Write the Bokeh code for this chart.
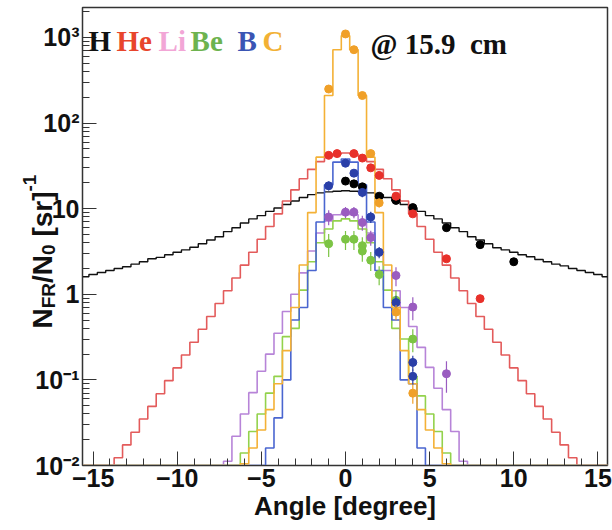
import numpy as np
from bokeh.plotting import figure
from bokeh.models import Range1d, FixedTicker, SingleIntervalTicker, Label, Row
from bokeh.core.properties import value
from bokeh.embed import file_html
from bokeh.resources import INLINE

# ---------------- data ----------------
# histogram bins: 0.5 degree wide, centred on multiples of 0.5 degree
bin_centers = np.arange(-15.5, 15.51, 0.5)
bin_width = 0.5

H_hist = [1.6, 1.7, 1.8, 1.9, 2.0, 2.1, 2.25, 2.4, 2.6, 2.7, 2.9, 3.1, 3.3, 3.55, 3.9, 4.3,
          4.7, 5.4, 6.0, 6.8, 7.6, 8.3, 9.3, 10.2, 11.2, 12.3, 13.5, 14.6, 15.3, 15.7, 16.0,
          16.2,
          16.0, 15.7, 15.3, 14.6, 13.5, 12.3, 11.2, 10.2, 9.3, 8.3, 7.6, 6.8, 6.0, 5.4, 4.7,
          4.3, 3.9, 3.5, 3.3, 3.1, 2.9, 2.75, 2.55, 2.4, 2.25, 2.15, 2.0, 1.9, 1.8, 1.7, 1.6]
He_hist = [0, 0, 0, 0, 0.0123, 0.0174, 0.0245, 0.035, 0.049, 0.069, 0.098, 0.138, 0.195,
           0.275, 0.39, 0.55, 0.78, 1.10, 1.55, 2.19, 3.1, 4.4, 6.2, 8.7, 12.3, 16.6, 22.4,
           28.8, 35.5, 40.7, 43.6,
           44.7,
           43.6, 40.7, 35.5, 28.8, 22.4, 16.6, 12.3, 8.7, 6.2, 4.4, 3.1, 2.19, 1.55, 1.10, 0.78,
           0.55, 0.39, 0.275, 0.195, 0.138, 0.098, 0.069, 0.049, 0.035, 0.0245, 0.0174, 0.0123,
           0, 0, 0, 0]
Li_hist = [0] * 16 + [0, 0.0112, 0.022, 0.04, 0.071, 0.126, 0.2, 0.35, 0.63, 1.0, 1.78, 3.2,
                      5.2, 7.2, 8.5] + \
          [8.9] + \
          [8.5, 7.2, 5.2, 3.2, 1.9, 1.1, 0.7, 0.42, 0.24, 0.14, 0.08, 0.045, 0.025, 0.0112, 0] + [0] * 16
Be_hist = [0] * 19 + [0.014, 0.025, 0.04, 0.07, 0.11, 0.32, 0.4, 1.12, 2.4, 4.0, 5.8, 7.2] + \
          [7.6] + \
          [7.2, 5.8, 4.0, 2.4, 1.12, 0.4, 0.3, 0.11, 0.065, 0.04, 0.025, 0.014] + [0] * 19
B_hist = [0] * 22 + [0.016, 0.036, 0.1, 0.5, 0.7, 1.9, 7.0, 19.0, 35.0] + \
         [38.0] + \
         [35.0, 19.0, 7.0, 1.9, 0.7, 0.5, 0.1, 0.09, 0.016] + [0] * 22
C_hist = [0] * 19 + [0.0105, 0.016, 0.026, 0.045, 0.09, 0.22, 0.7, 2.2, 9.0, 40.0, 210.0, 720.0] + \
         [1050.0] + \
         [720.0, 210.0, 40.0, 9.0, 2.2, 0.7, 0.22, 0.09, 0.045, 0.026, 0.016, 0.0105] + [0] * 19

# measured points (x in degree, value, relative error)
H_x = [0, 0.5, 1, 2, 3, 4, 6, 8, 10]
H_v = [21.0, 19.5, 18.0, 14.0, 12.5, 10.3, 6.0, 3.8, 2.4]
H_e = [0.03] * 9
He_x = [-1, -0.5, 0.5, 1, 1.5, 2, 3, 4, 6, 8]
He_v = [42.0, 44.0, 44.0, 39.0, 30.0, 24.5, 14.0, 8.7, 2.6, 0.89]
He_e = [0.05] * 10
Li_x = [-1, 0, 0.5, 1, 1.5, 3, 4, 6]
Li_v = [8.0, 9.1, 9.1, 6.9, 4.6, 1.66, 0.71, 0.118]
Li_e = [0.2, 0.15, 0.15, 0.2, 0.2, 0.25, 0.3, 0.4]
Be_x = [-1, 0, 0.5, 1, 1, 1.5, 2, 3, 4]
Be_v = [3.9, 4.4, 4.4, 3.7, 3.2, 2.5, 1.7, 0.85, 0.3]
Be_e = [0.3, 0.25, 0.25, 0.25, 0.25, 0.25, 0.25, 0.3, 0.3]
B_x = [-1, 0, 0.5, 1, 1.5, 2, 3, 4, 4]
B_v = [18.5, 34.0, 26.0, 15.5, 8.0, 3.1, 0.8, 0.16, 0.11]
B_e = [0.12, 0.1, 0.1, 0.12, 0.15, 0.15, 0.2, 0.2, 0.2]
C_x = [-1, 0, 0.5, 1, 1.5, 2, 3, 4]
C_v = [250.0, 1100.0, 720.0, 210.0, 44.0, 11.7, 0.62, 0.07]
C_e = [0.08, 0.05, 0.06, 0.08, 0.1, 0.12, 0.2, 0.25]

legend_words = ["H", "He", "Li", "Be", "B", "C"]
x_ticks_major = [-15, -10, -5, 0, 5, 10, 15]
y_ticks_major = [0.01, 0.1, 1, 10, 100, 1000]
y_tick_labels = ["10\u207b\u00b2", "10\u207b\u00b9", "1", "10", "10\u00b2", "10\u00b3"]
y_title_parts = ["N", "FR", "/N", "0", "\u00a0[sr]", "-1"]

# ---------------- styling ----------------
hist_colors = {"H": "#111111", "He": "#e35b5b", "Li": "#b784d8", "Be": "#93d24c",
               "B": "#4a66d0", "C": "#f4b136"}
dot_colors = {"H": "#000000", "He": "#e8302a", "Li": "#9a5cc0", "Be": "#7cc444",
              "B": "#2a3fa8", "C": "#f0a028"}
word_colors = {"H": "#111111", "He": "#e8452c", "Li": "#f2a6d6", "Be": "#6db34f",
               "B": "#3a55b4", "C": "#f2b134"}

W, H = 612, 530
BORDER_L, BORDER_R, BORDER_T, BORDER_B = 82, 5, 7, 65
Y_MIN, Y_MAX = 0.01, 2240.0
X_MIN, X_MAX = -15.63, 15.57

p = figure(width=W, height=H, y_axis_type="log",
           x_range=Range1d(X_MIN, X_MAX), y_range=Range1d(Y_MIN, Y_MAX),
           output_backend="svg", toolbar_location=None,
           min_border_left=BORDER_L, min_border_right=BORDER_R,
           min_border_top=BORDER_T, min_border_bottom=BORDER_B)
p.background_fill_color = "white"
p.border_fill_color = "white"
p.xgrid.visible = False
p.ygrid.visible = False
p.outline_line_color = "#333333"
p.outline_line_width = 1.5

# axes
p.xaxis.ticker = SingleIntervalTicker(interval=5, num_minor_ticks=5)
p.yaxis.ticker = FixedTicker(ticks=y_ticks_major,
                             minor_ticks=[m * 10.0 ** e for e in range(-2, 4) for m in range(2, 10)])
p.yaxis.major_label_overrides = dict(zip(y_ticks_major, y_tick_labels))
for ax in (p.xaxis[0], p.yaxis[0]):
    ax.major_tick_in = 14
    ax.major_tick_out = 0
    ax.minor_tick_in = 7
    ax.minor_tick_out = 0
    ax.axis_line_color = "#333333"
    ax.major_tick_line_color = "#333333"
    ax.minor_tick_line_color = "#333333"
    ax.major_label_text_font = "Liberation Sans"
    ax.major_label_text_font_style = "bold"
    ax.major_label_text_color = "#111111"
    ax.major_label_standoff = 3
p.xaxis.major_label_text_font_size = "25px"
p.yaxis.major_label_text_font_size = "25px"
p.xaxis.axis_label = "Angle [degree]"
p.xaxis.axis_label_text_font = "Liberation Sans"
p.xaxis.axis_label_text_font_style = "bold"
p.xaxis.axis_label_text_font_size = "26px"
p.xaxis.axis_label_text_color = "#111111"
p.xaxis.axis_label_standoff = 1


def step_path(values):
    vals = np.maximum(np.asarray(values, dtype=float), Y_MIN)
    edges_lo = bin_centers - bin_width / 2
    edges_hi = bin_centers + bin_width / 2
    xs = np.ravel(np.column_stack([edges_lo, edges_hi]))
    ys = np.ravel(np.column_stack([vals, vals]))
    return xs, ys


hists = [("H", H_hist), ("He", He_hist), ("Li", Li_hist), ("Be", Be_hist),
         ("B", B_hist), ("C", C_hist)]
for name, vals in hists:
    xs, ys = step_path(vals)
    p.line(xs, ys, line_color=hist_colors[name], line_width=1.6 if name != "H" else 1.4)

points = [("H", H_x, H_v, H_e), ("He", He_x, He_v, He_e), ("Li", Li_x, Li_v, Li_e),
          ("Be", Be_x, Be_v, Be_e), ("B", B_x, B_v, B_e), ("C", C_x, C_v, C_e)]
for name, xs, vs, es in points:
    xs = np.asarray(xs, float)
    vs = np.asarray(vs, float)
    es = np.asarray(es, float)
    p.segment(xs, vs * (1 - es), xs, vs * (1 + es), line_color=dot_colors[name], line_width=1.2)
    p.scatter(xs, vs, size=8, fill_color=dot_colors[name], line_color=dot_colors[name])


# ---------------- texts inside the frame ----------------
def sx(px):
    return (px - 345.0) / 16.83


def sy(py):
    return 10 ** (3 - (py - 37.0) / 85.6)


word_px = [88, 116, 158, 190, 237, 262]
for w, px in zip(legend_words, word_px):
    p.add_layout(Label(x=sx(px), y=sy(41), text=w, text_font="Liberation Serif",
                       text_font_style="bold", text_font_size="29px",
                       text_color=word_colors[w], text_align="left",
                       text_baseline="alphabetic"))

p.add_layout(Label(x=sx(370), y=sy(44), text="@ 15.9\u00a0\u00a0cm", text_font="Liberation Serif",
                   text_font_style="bold", text_font_size="29px", text_color="#111111",
                   text_align="left", text_baseline="alphabetic"))

# ---------------- rotated y-axis title on a transparent overlay figure ----------------
# the row aligns the overlay's frame vertically with the main frame, so its y range is
# chosen so that y = H - (page pixel row); x spans the whole overlay canvas
ov = figure(width=W, height=H, x_range=Range1d(11, W + 11),
            y_range=Range1d(BORDER_B, H - BORDER_T),
            output_backend="svg", toolbar_location=None,
            x_axis_location=None, y_axis_location=None,
            min_border_left=0, min_border_right=0, min_border_top=0, min_border_bottom=0)
ov.xgrid.visible = False
ov.ygrid.visible = False
ov.outline_line_color = None
ov.background_fill_color = None
ov.border_fill_color = None
ov.margin = (0, 0, 0, -W)   # pull the overlay back on top of the main figure

title_start_py = [328.0, 307.8, 282.5, 254.5, 243.9, 191.0]   # where each piece begins (page px)
title_base_px = [53, 59, 53, 59, 53, 40]                       # baseline column (page px)
title_sizes = ["28px", "19px", "28px", "19px", "28px", "19px"]
for txt, py, px, fs in zip(y_title_parts, title_start_py, title_base_px, title_sizes):
    ov.text(x=[px], y=[H - py], text=[txt], angle=np.pi / 2,
            text_font=value("Liberation Sans"), text_font_style="bold",
            text_font_size=fs, text_color="#111111",
            text_align="left", text_baseline="alphabetic")

layout = Row(children=[p, ov], width=W, height=H)

open("out.html", "w").write(file_html(layout, INLINE))
